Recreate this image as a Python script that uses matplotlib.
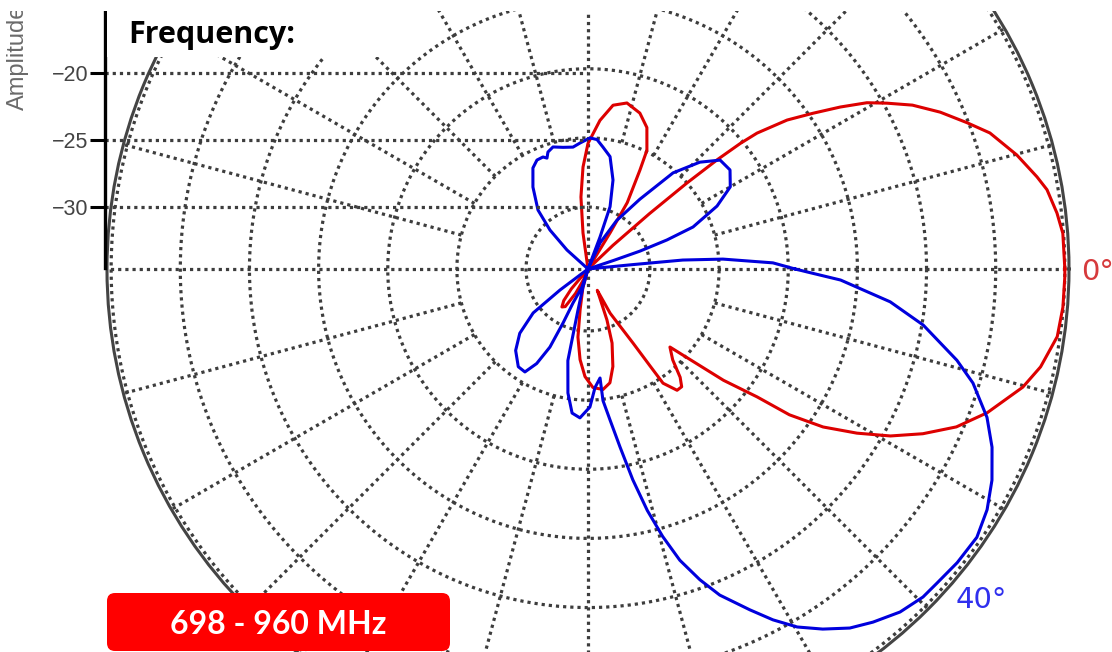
import numpy as np
import matplotlib
matplotlib.use("Agg")
import matplotlib.pyplot as plt
from matplotlib.patches import Rectangle, FancyBboxPatch
from matplotlib.transforms import IdentityTransform

# ---------------- data ----------------
red_angle = [0, 4.3, 6.8, 9.8, 11.6, 14.9, 18.7, 21.1, 24.0, 26.8, 29.0, 30.8, 32.7, 34.7,
             36.8, 38.8, 39.5, 40.2, 41.0, 42.0, 43.5, 45.0, 57.0, 58.6, 59.4, 62.3, 63.6,
             67.4, 71.6, 76.8, 81.3, 85.4, 90.0, 92.8, 95.6, 97.9, 99.5, 226, 230, 232.5,
             235.5, 238.8, 243, 248, 251, 254.5, 259, 261.6, 265, 268.4, 272.4, 277.1,
             280.9, 284.3, 288, 290.4, 292, 293.5, 296.6, 301.3, 302.6, 303.3, 306.3,
             308.5, 310.4, 313, 316.4, 317.8, 320.6, 322.9, 324.1, 326.1, 328.6, 331.1,
             333.8, 336.8, 340.2, 344.8, 347.8, 351.8, 355.4, 359]
red_db = [0, -0.05, -0.33, -0.8, -1.34, -2.4, -3.8, -5.1, -6.6, -8.2, -9.75, -11.0, -12.8,
          -14.7, -16.5, -18.8, -20.2, -22.2, -25.0, -28.5, -32.0, -34.5, -34.5, -31.4,
          -28.9, -26.4, -24.9, -23.4, -22.6, -22.15, -22.5, -23.7, -25.4, -27.1, -29.25,
          -31.85, -34.5, -34.5, -32.6, -31.6, -31.15, -31.3, -32.5, -33.7, -34.5, -33.1,
          -31.5, -29.5, -27.9, -26.7, -25.9, -25.7, -26.1, -27.2, -28.85, -30.55, -32.1,
          -32.8, -30.9, -28.2, -26.2, -24.6, -23.6, -23.6, -24.2, -25.5, -26.3, -25.2,
          -21.8, -19.15, -16.5, -14.0, -11.7, -9.5, -7.5, -5.5, -3.8, -1.9, -1.0, -0.2,
          -0.03, 0]

blue_angle = [0, 1.9, 4.2, 5.4, 5.6, 6.5, 17.0, 18.5, 19.0, 20.2, 21.8, 26.0, 30.0, 34.9,
              39.5, 43.7, 48.5, 53.4, 59.4, 65.2, 67.3, 69.4, 70.5, 74.3, 78.9, 83.0, 86.0,
              89.1, 93.6, 97.0, 101.6, 106.0, 108.9, 110.3, 111.9, 115.1, 118.6, 123.9,
              130.3, 134.3, 137.9, 140, 215, 216.9, 218.7, 223.3, 228.4, 234.5, 238.5,
              241.5, 244, 245.2, 246.2, 251.6, 253, 254.5, 256.3, 257.3, 257.6, 260.8,
              263.7, 266.9, 270.8, 273.4, 276.3, 276.5, 278.3, 280.2, 282, 283.8, 285.6,
              287.5, 289.8, 292, 295.4, 297.8, 300.3, 303.1, 306.1, 308.9, 312.3, 315.6,
              318, 321.5, 325.4, 328.9, 332.4, 336.2, 339.6, 343.5, 346.1, 350.5, 353.8,
              357.5, 359.2]
blue_db = [-19.5, -21.1, -24.7, -27.6, -31.2, -34.5, -34.5, -32.5, -30.5, -28.4, -26.3,
           -24.1, -22.6, -21.96, -22.1, -23.3, -25.2, -28.2, -30.4, -32.4, -34.5, -32.0,
           -29.7, -27.8, -26.2, -25.6, -25.1, -25.0, -25.35, -25.6, -25.5, -25.3, -25.54,
           -25.93, -25.75, -25.78, -26.16, -27.34, -28.89, -30.54, -32.43, -34.5, -34.5,
           -31.95, -29.4, -27.7, -26.6, -25.8, -25.75, -26.7, -28.2, -30.2, -31.8, -33.1,
           -34.5, -33.1, -31.4, -29.2, -27.7, -25.4, -24.0, -23.7, -24.5, -25.9, -26.55,
           -24.9, -23.45, -21.4, -18.9, -16.5, -14.4, -12.4, -10.6, -9.05, -7.2, -5.8,
           -4.5, -3.4, -2.35, -1.67, -0.95, -0.58, -0.53, -0.37, -0.32, -0.78, -1.52,
           -2.55, -3.7, -5.45, -7.0, -9.9, -12.5, -16.2, -18.6]

series_names = ["0°", "40°"]
series_colors = ["#dd0000", "#0000dd"]
label_colors = ["#d63a3c", "#3030ee"]
ring_db = [-30, -25, -20, -15, -10, -5, 0]
spoke_step_deg = 15
amp_ticks = [-30, -25, -20]
amp_hidden_tick = -15
amp_title = "Amplitude"
legend_title = "Frequency:"
band_text = "698 - 960 MHz"

# ---------------- layout ----------------
W, H = 1112, 652
fig = plt.figure(figsize=(W / 100, H / 100), dpi=100)
fig.patch.set_facecolor("white")
PX = IdentityTransform()


def Y(y):  # top-based pixel -> display
    return H - y


def fmt(v):
    return ("\u2212" + str(-v)) if v < 0 else str(v)


CX, CY = 588, 269
R = 481
R_MIN = -34.48
PX_PER_DB = 13.83
R_MAX = R_MIN + R / PX_PER_DB

GRID_COLOR = "#3d3d3d"
DOT_LS = (0, (1.0, 1.25))
DOT_LW = 2.3

ax = fig.add_axes([(CX - R) / W, (H - CY - R) / H, 2 * R / W, 2 * R / H],
                  projection="polar")
ax.set_ylim(R_MIN, R_MAX)
ax.set_xticks([])
ax.set_yticks([])
ax.grid(False)
ax.spines["polar"].set_color("#444444")
ax.spines["polar"].set_linewidth(2.2)

dot = dict(color=GRID_COLOR, lw=DOT_LW, ls=DOT_LS, zorder=1)
th = np.linspace(0, 2 * np.pi, 1441)
for r in ring_db:
    ax.plot(th, np.full_like(th, r), **dot)
for a in range(0, 360, spoke_step_deg):
    t = np.deg2rad(a)
    r0 = R_MIN if a % 90 == 0 else ring_db[1]
    ax.plot([t, t], [r0, R_MAX], **dot)

for ang, db, col in [(red_angle, red_db, series_colors[0]),
                     (blue_angle, blue_db, series_colors[1])]:
    a = np.deg2rad(np.r_[ang, ang[0]])
    d = np.maximum(np.r_[db, db[0]], R_MIN)
    ax.plot(a, d, color=col, lw=2.2, zorder=3, solid_joinstyle="round")

# amplitude axis
AMP_PX = 13.46
AMP_REF_Y, AMP_REF_V = 207.3, -30
amp_top_y, amp_bot_y, amp_left, amp_right = 12, 268, 105, 588
amp = fig.add_axes([amp_left / W, (H - amp_bot_y) / H, (amp_right - amp_left) / W,
                    (amp_bot_y - amp_top_y) / H])
amp.set_ylim(AMP_REF_V - (amp_bot_y - AMP_REF_Y) / AMP_PX,
             AMP_REF_V + (AMP_REF_Y - amp_top_y) / AMP_PX)
amp.patch.set_alpha(0)
for s in ["top", "right", "bottom"]:
    amp.spines[s].set_visible(False)
amp.spines["left"].set_color("black")
amp.spines["left"].set_linewidth(2.4)
amp.set_xticks([])
amp.set_yticks(amp_ticks)
amp.set_yticklabels([fmt(t) for t in amp_ticks], family="Liberation Sans")
amp.tick_params(axis="y", length=11, width=2.2, color="black", labelsize=15.5,
                labelcolor="#444444", pad=1)
amp.yaxis.grid(True, color=GRID_COLOR, lw=DOT_LW, ls=DOT_LS)

hidden_y = AMP_REF_Y - (amp_hidden_tick - AMP_REF_V) * AMP_PX
fig.text(90, Y(hidden_y), fmt(amp_hidden_tick), transform=PX, ha="right", va="center",
         fontsize=15.5, color="#444444", family="Liberation Sans", zorder=3)
fig.text(18, Y(110), amp_title, transform=PX, rotation=90, ha="center", va="bottom",
         fontsize=17, color="#6a6a6a", family="Liberation Sans", zorder=3)

# white top band & legend box
fig.add_artist(Rectangle((0, Y(11)), W, 11, transform=PX, facecolor="white",
                         edgecolor="none", zorder=4))
fig.add_artist(Rectangle((107, Y(57)), 293, 57, transform=PX, facecolor="white",
                         edgecolor="none", zorder=4))
fig.text(128, Y(43), legend_title, transform=PX, ha="left", va="baseline",
         fontsize=22, fontweight="bold", family="Open Sans", color="black", zorder=6)

# red frequency band box
fig.add_artist(FancyBboxPatch((107, Y(651)), 343, 58, transform=PX,
                              boxstyle="round,pad=0,rounding_size=8",
                              facecolor="#ff0000", edgecolor="none", zorder=5))
fig.text(278.5, Y(634), band_text, transform=PX, ha="center", va="baseline",
         fontsize=23, fontweight="bold", family="Lato", color="white", zorder=6)

# series labels
fig.text(1081, Y(280), series_names[0], transform=PX, ha="left", va="baseline",
         fontsize=21, color=label_colors[0], zorder=6)
fig.text(956, Y(608), series_names[1], transform=PX, ha="left", va="baseline",
         fontsize=21, color=label_colors[1], zorder=6)

fig.savefig("out.png", dpi=100, facecolor="white")
